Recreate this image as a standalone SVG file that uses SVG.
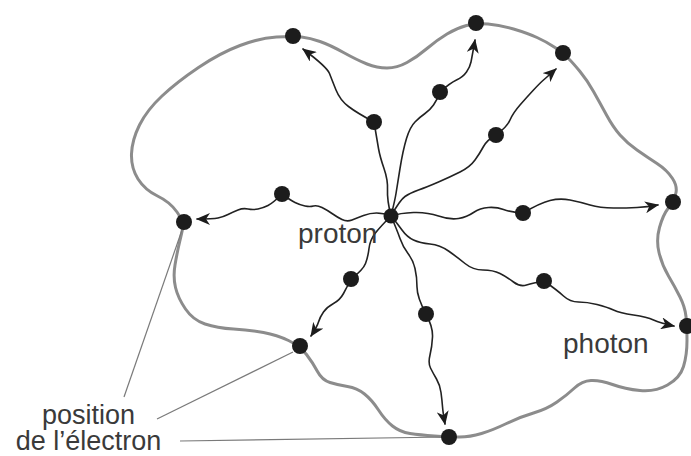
<svg xmlns="http://www.w3.org/2000/svg" width="691" height="456" viewBox="0 0 691 456">
<style>
.bnd{fill:none;stroke:#8c8c8c;stroke-width:3}
.ph{fill:none;stroke:#222;stroke-width:1.6;stroke-linecap:round;stroke-linejoin:round}
.lead{fill:none;stroke:#7a7a7a;stroke-width:1.2}
.dot{fill:#1c1c1c}
.lbl{font-family:"Liberation Sans",Arial,sans-serif;font-size:28px;fill:#3a3a3a}
.lbl2{font-family:"Liberation Sans",Arial,sans-serif;font-size:27px;fill:#3a3a3a}
</style>
<defs>
<marker id="arr" viewBox="0 0 14 12" refX="13" refY="6" markerWidth="14" markerHeight="12" markerUnits="userSpaceOnUse" orient="auto">
<path d="M0,0 L14,6 L0,12 L4,6 Z" fill="#1c1c1c"/>
</marker>
</defs>
<rect width="691" height="456" fill="#ffffff"/>
<g id="boundary">
<path class="bnd" d="M276.5,37 Q293,36 301.5,37 Q310,38 320,41.5 Q330,45 343.5,52.5 Q357,60 367,64 Q377,68 387,68 Q397,68 407,62.5 Q417,57 427,48.5 Q437,40 447,34 Q457,28 466.5,25.5 Q476,23 488,24 Q500,25 513.5,29 Q527,33 537,37.5 Q547,42 555,47.5 Q563,53 568,58 Q573,63 580,71.5 Q587,80 593.5,91.5 Q600,103 606.5,115 Q613,127 620,135 Q627,143 637,150 Q647,157 657,163.5 Q667,170 672.5,178.5 Q678,187 675.5,194.5 Q673,202 668,208.5 Q663,215 659.5,227.5 Q656,240 659,252.5 Q662,265 668.5,276 Q675,287 680,297 Q685,307 686,316.5 Q687,326 687,340.5 Q687,355 683.5,366.5 Q680,378 667.5,385 Q655,392 640,390.5 Q625,389 612.5,384.5 Q600,380 591,380.5 Q582,381 574.5,388 Q567,395 557,402 Q547,409 533.5,413 Q520,417 506.5,423.5 Q493,430 481.5,433.5 Q470,437 459.5,437 Q449,437 434.5,436 Q420,435 410,433.5 Q400,432 392.5,426 Q385,420 378.5,410 Q372,400 364.5,394 Q357,388 347.5,386.5 Q338,385 330,382.5 Q322,380 317.5,371.5 Q313,363 306.5,354.5 Q300,346 288.5,340.5 Q277,335 263.5,332.5 Q250,330 233.5,329 Q217,328 205,324 Q193,320 185.5,309 Q178,298 175.5,287.5 Q173,277 175,265 Q177,253 179.5,242.5 Q182,232 183,227 Q184,222 177,212 Q170,202 157.5,196 Q145,190 138,179 Q131,168 131.5,154 Q132,140 139.5,125 Q147,110 162,96 Q177,82 198.5,67.5 Q220,53 240,45.5 Q260,38 276.5,37 Z"/>
</g>
<g id="connectors">
<path class="ph" marker-end="url(#arr)" d="M391,216 Q387,200 387.5,190 Q388,180 384,168.5 Q380,157 378.5,148.5 Q377,140 374,122 M374,122 Q357,113 348.5,106.5 Q340,100 336,90 Q332,80 329.5,73.5 Q327,67 303,49"/>
<path class="ph" marker-end="url(#arr)" d="M391,216 Q383,213 376.5,213 Q370,213 363.5,215.5 Q357,218 352,220 Q347,222 342,219.5 Q337,217 332,213.5 Q327,210 322,207.5 Q317,205 313.5,206 Q310,207 305,206 Q300,205 295,202.5 Q290,200 282,194 M282,194 Q273,203 268,205.5 Q263,208 258,209 Q253,210 248,209 Q243,208 238,210 Q233,212 228,214.5 Q223,217 218,218 Q213,219 197,219"/>
<path class="ph" marker-end="url(#arr)" d="M391,216 Q395,200 396,193.5 Q397,187 400,168.5 Q403,150 406.5,138.5 Q410,127 415,122 Q420,117 425,113.5 Q430,110 433.5,105 Q437,100 440,92 M440,92 Q450,83 456.5,80 Q463,77 466.5,72 Q470,67 471,62 Q472,57 475,40"/>
<path class="ph" marker-end="url(#arr)" d="M391,216 Q400,200 405,196.5 Q410,193 418.5,190 Q427,187 438.5,182 Q450,177 460,172 Q470,167 475,160 Q480,153 483.5,146.5 Q487,140 496,135 M496,135 Q507,127 510,120 Q513,113 520,105 Q527,97 533.5,90 Q540,83 543.5,80 Q547,77 556,69"/>
<path class="ph" marker-end="url(#arr)" d="M391,216 Q400,213 413.5,212.5 Q427,212 438.5,216 Q450,220 458.5,218.5 Q467,217 473.5,212.5 Q480,208 488.5,207.5 Q497,207 503.5,209.5 Q510,212 523,213 M523,213 Q540,203 550,200.5 Q560,198 570,200 Q580,202 590,205 Q600,208 613.5,208 Q627,208 637,207.5 Q647,207 658,205"/>
<path class="ph" marker-end="url(#arr)" d="M391,216 Q397,223 402,230 Q407,237 413.5,240 Q420,243 430,244 Q440,245 448.5,251 Q457,257 465,263.5 Q473,270 483,270 Q493,270 500,273.5 Q507,277 513.5,282 Q520,287 526.5,285 Q533,283 544,281 M544,281 Q557,290 563.5,296 Q570,302 578.5,302 Q587,302 597,304.5 Q607,307 613.5,310 Q620,313 633.5,315 Q647,317 653.5,320 Q660,323 674,326"/>
<path class="ph" marker-end="url(#arr)" d="M391,216 Q397,230 400,238.5 Q403,247 408,253.5 Q413,260 415,268.5 Q417,277 417,287 Q417,297 426,314 M426,314 Q433,327 432.5,337 Q432,347 430,355 Q428,363 430.5,368 Q433,373 436.5,379 Q440,385 441,392.5 Q442,400 442.5,406.5 Q443,413 445,424"/>
<path class="ph" marker-end="url(#arr)" d="M391,216 Q380,227 375,233.5 Q370,240 369,248.5 Q368,257 365.5,263.5 Q363,270 351,279 M351,279 Q347,287 343.5,293.5 Q340,300 333.5,303.5 Q327,307 323.5,312 Q320,317 318.5,322 Q317,327 311,336"/>
<path class="lead" d="M182,230 L124,397"/>
<path class="lead" d="M293,352 L157,419"/>
<path class="lead" d="M447,437 L180,441"/>
</g>
<g id="proton"><circle class="dot" cx="391" cy="216" r="7.5"/><text class="lbl" x="298" y="243">proton</text></g>
<g id="e-topleft"><circle class="dot" cx="293" cy="36" r="8"/></g>
<g id="e-top"><circle class="dot" cx="476" cy="23" r="8"/></g>
<g id="e-topright"><circle class="dot" cx="563" cy="53" r="8"/></g>
<g id="e-right"><circle class="dot" cx="673" cy="202" r="8"/></g>
<g id="e-photon"><circle class="dot" cx="687" cy="326" r="8"/></g>
<g id="e-bottom"><circle class="dot" cx="449" cy="437" r="8"/></g>
<g id="e-bottomleft"><circle class="dot" cx="300" cy="346" r="8"/></g>
<g id="e-left"><circle class="dot" cx="184" cy="222" r="8"/></g>
<g id="m1"><circle class="dot" cx="374" cy="122" r="8"/></g>
<g id="m2"><circle class="dot" cx="282" cy="194" r="8"/></g>
<g id="m3"><circle class="dot" cx="440" cy="92" r="8"/></g>
<g id="m4"><circle class="dot" cx="496" cy="135" r="8"/></g>
<g id="m5"><circle class="dot" cx="523" cy="213" r="8"/></g>
<g id="m6"><circle class="dot" cx="544" cy="281" r="8"/></g>
<g id="m7"><circle class="dot" cx="426" cy="314" r="8"/></g>
<g id="m8"><circle class="dot" cx="351" cy="279" r="8"/></g>
<g id="label-photon"><text class="lbl" x="563" y="353">photon</text></g>
<g id="label-position"><text class="lbl2" x="88.5" y="424" text-anchor="middle">position</text><text class="lbl2" x="88.5" y="450" text-anchor="middle">de l’électron</text></g>
</svg>
